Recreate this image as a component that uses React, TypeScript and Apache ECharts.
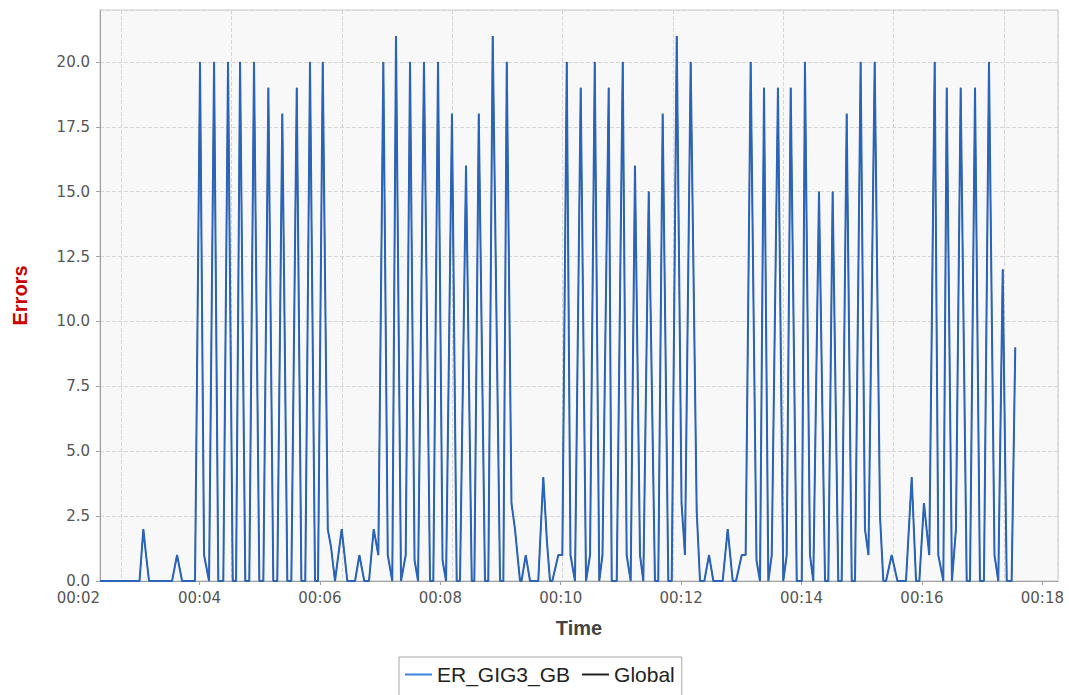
import React, { useEffect, useRef } from "react";
import * as echarts from "echarts";

// Legend / series names
const seriesNames = ["ER_GIG3_GB", "Global"];

// Sample times (seconds since 00:00) and error counts
const timeSec = [
  140.8, 180.2, 184.0, 186.7, 189.7, 212.6, 217.6, 222.6, 235.5,
  240.5, 244.5, 249.5, 254.5, 258.7, 263.7, 268.4, 273.1, 276.4, 280.4,
  285.6, 289.6, 294.3, 299.6, 303.6, 308.6, 313.5, 317.5, 322.5, 327.5,
  331.5, 336.9, 341.5, 345.4, 350.1, 355.1, 358.1, 362.8, 367.8, 371.1,
  375.0, 381.7, 387.3, 395.0, 399.3, 404.2, 408.9, 413.6, 418.2,
  423.2, 427.6, 432.1, 435.8, 440.8, 445.5, 449.8, 454.3, 457.8, 463.7,
  469.7, 473.0, 477.7, 482.2, 485.7, 491.6, 496.3, 499.6, 505.6, 511.3,
  513.9, 518.3, 524.5, 527.8, 532.2, 539.5, 542.8, 546.2, 550.9, 554.4,
  559.4, 560.9, 565.1, 569.4, 577.6, 582.6, 586.3, 589.3, 591.6, 597.6,
  601.6,
  606.0, 609.7, 614.2, 619.9, 625.2, 629.2, 633.9, 638.4, 641.6, 647.8,
  650.8, 655.8, 661.8, 665.7, 669.7, 674.0, 679.0, 682.3, 687.7, 693.9,
  697.2, 701.6, 707.2, 710.6, 715.6, 720.4, 723.8, 729.5, 735.5, 738.8,
  743.1, 747.8, 752.1, 761.4, 766.4, 771.4, 774.7, 780.4, 784.3,
  789.3, 795.1, 798.6, 802.6, 806.9, 810.3, 816.5, 821.8, 825.2, 829.2,
  835.2, 840.2, 843.4, 848.4, 851.7, 857.4, 863.4, 866.7, 871.0, 876.6,
  880.0, 885.0, 890.0, 893.3, 898.9, 903.2, 906.7, 912.9, 918.2, 921.5,
  924.2, 929.8, 935.6, 944.1, 949.8, 954.1, 957.4, 962.0, 967.3,
  972.7, 976.3, 981.3, 984.7, 989.9, 993.9, 998.6, 1004.6, 1007.9, 1012.9,
  1017.8, 1021.8, 1026.8, 1032.3, 1036.1, 1040.5, 1044.5, 1049.4, 1053.0,
];

const errors = [
  0, 0, 2, 1, 0, 0, 1, 0, 0,
  20, 1, 0, 20, 0, 0, 20, 0, 0, 20,
  0, 0, 20, 0, 0, 19, 0, 0, 18, 0,
  0, 19, 0, 0, 20, 0, 0, 20, 2, 1.3,
  0, 2, 0, 0, 1, 0, 0, 2, 1,
  20, 1, 0, 21, 0, 1, 20, 0.8, 0, 20,
  0, 0, 20, 0.8, 0, 18, 0, 0, 16, 0,
  0, 18, 0, 0, 21, 0, 0, 20, 3, 2,
  0, 0, 1, 0, 0, 4, 1.5, 0, 0, 1,
  1,
  20, 1, 0, 19, 0, 1, 20, 0, 1, 19,
  0, 0, 20, 1, 0, 16, 1, 0, 15, 0,
  0, 18, 0, 0, 21, 3, 1, 20, 2.7, 0,
  0, 1, 0, 0, 2, 0, 0, 1, 1,
  20, 0.8, 0, 19, 0, 1, 19, 0, 1, 19,
  0, 0, 20, 1, 0, 15, 0, 0, 15, 0,
  0, 18, 0, 0, 20, 2, 1, 20, 2.5, 0,
  0, 1, 0, 0, 4, 0, 0, 3, 1,
  20, 1, 0, 19, 0, 2, 19, 0, 0, 19,
  0, 0, 20, 1, 0, 12, 0, 0, 9,
];

// Global = total over all elements (only ER_GIG3_GB reports here)
const globalErrors = errors;

// Axis ticks
const xTickSec = [240, 360, 480, 600, 720, 840, 960, 1080];
const xMinSec = 140.8;
const xMaxSec = 1095.6;
const yMin = 0;
const yMax = 22;
const yStep = 2.5;

// Background vertical grid (independent of the time ticks)
const gridOriginSec = 161.8;
const gridStepSec = 110;

const fmtTime = (v: number) =>
  "00:" + String(Math.floor(v / 60 + 1e-6)).padStart(2, "0");

export default function App() {
  const ref = useRef<HTMLDivElement>(null);

  useEffect(() => {
    document.body.style.margin = "0";
    const chart = echarts.init(ref.current!, null, { renderer: "svg" });
    const erPts = timeSec.map((t, i) => [t, errors[i]]);
    const glPts = timeSec.map((t, i) => [t, globalErrors[i]]);
    const tickFont = { fontFamily: "DejaVu Sans", fontSize: 15, color: "#555" };

    chart.setOption({
      animation: false,
      backgroundColor: "#ffffff",
      grid: {
        left: 100,
        right: 11,
        top: 10,
        bottom: 114,
        show: true,
        backgroundColor: "#f8f8f8",
        borderColor: "#c8c8c8",
        borderWidth: 1,
      },
      legend: {
        data: [
          { name: seriesNames[0], itemStyle: { color: "#3a80dc" } },
          { name: seriesNames[1], itemStyle: { color: "#222222" } },
        ],
        left: 399,
        top: 657,
        icon: "rect",
        itemWidth: 27,
        itemHeight: 2,
        itemGap: 12,
        padding: [7, 7, 12, 6],
        borderColor: "#a8a8a8",
        borderWidth: 1,
        backgroundColor: "#ffffff",
        textStyle: { fontFamily: "Liberation Sans", fontSize: 21, color: "#222" },
      },
      xAxis: [
        {
          type: "value",
          min: xMinSec,
          max: xMaxSec,
          name: "Time",
          nameLocation: "middle",
          nameGap: 37,
          nameTextStyle: {
            fontFamily: "Liberation Sans",
            fontSize: 20,
            fontWeight: "bold",
            color: "#444",
          },
          axisLine: { show: true, onZero: false, lineStyle: { color: "#a0a0a0" } },
          axisTick: {
            show: true,
            length: 4,
            customValues: xTickSec,
            lineStyle: { color: "#a0a0a0" },
          },
          axisLabel: {
            ...tickFont,
            margin: 9,
            customValues: [xMinSec, ...xTickSec],
            formatter: fmtTime,
            alignMinLabel: "right",
          },
          splitLine: { show: false },
        },
        {
          type: "value",
          position: "bottom",
          min: (xMinSec - gridOriginSec) / gridStepSec,
          max: (xMaxSec - gridOriginSec) / gridStepSec,
          splitNumber: 9,
          axisLine: { show: false, onZero: false },
          axisTick: { show: false },
          axisLabel: { show: false },
          splitLine: {
            show: true,
            lineStyle: { type: "dashed", color: "#d6d6d6", width: 1 },
          },
        },
      ],
      yAxis: {
        type: "value",
        min: yMin,
        max: yMax,
        interval: yStep,
        name: "Errors",
        nameLocation: "middle",
        nameGap: 70,
        nameTextStyle: {
          fontFamily: "Liberation Sans",
          fontSize: 20,
          fontWeight: "bold",
          color: "#cc0000",
        },
        axisLine: { show: true, onZero: false, lineStyle: { color: "#a0a0a0" } },
        axisTick: { show: true, length: 4, lineStyle: { color: "#a0a0a0" } },
        axisLabel: {
          ...tickFont,
          margin: 10,
          showMaxLabel: false,
          formatter: (v: number) => (v > yMax - 0.5 ? "" : v.toFixed(1)),
        },
        splitLine: {
          show: true,
          lineStyle: { type: "dashed", color: "#d6d6d6", width: 1 },
        },
      },
      series: [
        {
          name: "Global",
          type: "line",
          data: glPts,
          symbol: "none",
          color: "#222222",
          lineStyle: { color: "#222222", width: 1 },
          z: 2,
        },
        {
          name: "ER_GIG3_GB",
          type: "line",
          data: erPts,
          symbol: "none",
          color: "#2a64b8",
          lineStyle: { color: "#2a64b8", width: 2 },
          z: 3,
        },
      ],
    });

    return () => chart.dispose();
  }, []);

  return (
    <div
      ref={ref}
      style={{ position: "absolute", left: 0, top: 0, width: 1069, height: 695 }}
    />
  );
}
